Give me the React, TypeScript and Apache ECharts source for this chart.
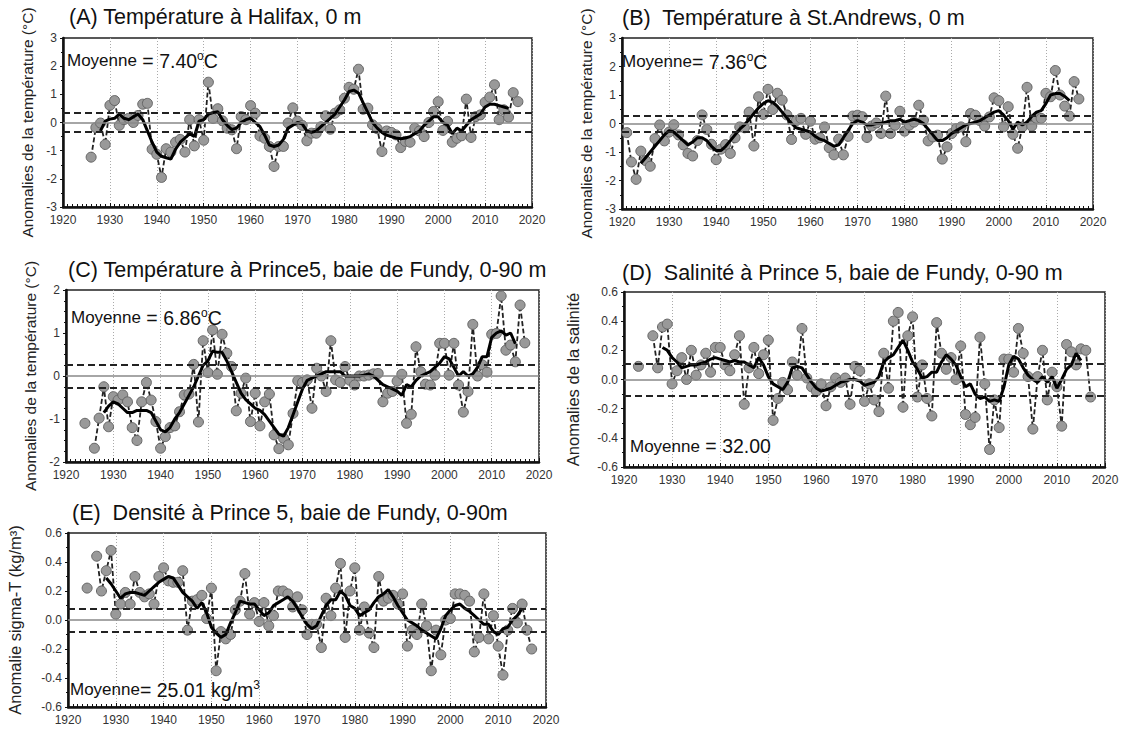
import React, { useEffect, useRef } from 'react';
import * as echarts from 'echarts';

const FONT = '"Liberation Sans", Arial, Helvetica, sans-serif';

// ---------- DATA ----------
const xTickYears = [1920, 1930, 1940, 1950, 1960, 1970, 1980, 1990, 2000, 2010, 2020];

// (A) Halifax 0 m temperature anomalies, from 1926
const halifaxStart = 1926;
const halifaxTemp = [
  -1.23, -0.18, -0.02, -0.78, 0.61, 0.78, -0.1, 0.1, 0.15, 0.0,
  0.25, 0.65, 0.68, -0.95, -1.13, -1.95, -0.93, -1.05, -0.7, -0.6,
  -1.05, 0.1, -0.83, 0.1, -0.63, 1.43, 0.14, 0.49, 0.06, -0.2,
  -0.26, -0.93, 0.21, 0.1, 0.6, 0.33, -0.48, -0.56, -0.85, -1.56,
  -0.85, -0.85, -0.02, 0.52, 0.05, -0.1, -0.65, -0.38, -0.38, -0.15,
  0.24, -0.24, 0.33, 0.45, 0.86, 1.25, 1.18, 1.89, 0.47, 0.51,
  -0.08, -0.22, -1.03, -0.3, -0.35, -0.44, -0.89, -0.67, -0.7, -0.2,
  -0.3, -0.5, 0.0, 0.39, 0.74, -0.28, 0.04, -0.7, -0.56, -0.47,
  0.83, -0.53, 0.21, 0.27, 0.72, 0.9, 1.34, 0.1, 0.45, 0.19,
  1.06, 0.74,
];
const halifaxSmoothStart = 1928;
const halifaxSmooth = [
  -0.3, 0.05, 0.12, 0.15, 0.3, 0.15, 0.1, 0.2, 0.3, 0.1,
  -0.3, -0.7, -1.05, -1.2, -1.25, -1.3, -0.95, -0.7, -0.55, -0.4,
  -0.5, 0.05, 0.1, 0.3, 0.35, 0.38, 0.1, -0.1, -0.25, -0.2,
  0.0, 0.1, 0.15, 0.0, -0.15, -0.45, -0.8, -0.85, -0.8, -0.6,
  -0.2, -0.1, 0.0, -0.05, -0.3, -0.35, -0.3, -0.15, 0.0, 0.15,
  0.3, 0.55, 0.8, 1.1, 1.15, 1.05, 0.7, 0.35, 0.0, -0.2,
  -0.35, -0.45, -0.5, -0.55, -0.58, -0.55, -0.5, -0.4, -0.3, -0.1,
  0.05, 0.2, 0.2, 0.0, -0.1, -0.4, -0.2, -0.3, -0.1, 0.1,
  0.2, 0.3, 0.55, 0.65, 0.65, 0.6, 0.55, 0.5,
];

// (B) St. Andrews 0 m temperature anomalies, from 1921
const andrewsStart = 1921;
const andrewsTemp = [
  -0.32, -1.35, -1.96, -0.97, -1.3, -1.5, -0.53, -0.05, -0.61, -0.3,
  -0.04, -0.4, -0.75, -1.05, -1.14, -0.6, 0.3, -0.21, -0.73, -1.27,
  -0.9, -0.74, -1.05, -0.5, -0.12, -0.15, 0.4, -0.79, 0.94, 0.32,
  1.2, 0.49, 1.06, 0.82, 0.3, -0.56, 0.1, 0.18, -0.38, 0.08,
  -0.55, -0.5, -0.12, -0.85, -1.1, -0.55, -1.1, -0.45, 0.26, 0.29,
  0.24, -0.49, -0.09, 0.02, -0.35, 0.96, -0.35, -0.06, 0.43, -0.27,
  -0.06, 0.05, 0.64, 0.12, -0.61, -0.47, -0.41, -1.25, -0.82, -0.35,
  -0.18, -0.12, -0.64, 0.35, 0.29, 0.1, -0.09, 0.23, 0.9, 0.8,
  -0.12, 0.59, -0.38, -0.87, -0.12, 1.27, -0.09, 0.18, 0.18, 1.06,
  0.94, 1.86, 1.0, 0.61, 0.26, 1.47, 0.86,
];
const andrewsSmoothStart = 1924;
const andrewsSmooth = [
  -1.4, -1.2, -1.0, -0.8, -0.6, -0.4, -0.25, -0.3, -0.45, -0.6,
  -0.75, -0.65, -0.5, -0.5, -0.6, -0.8, -0.95, -0.95, -0.8, -0.6,
  -0.4, -0.2, -0.05, 0.15, 0.35, 0.55, 0.7, 0.8, 0.75, 0.6,
  0.4, 0.2, 0.0, -0.15, -0.2, -0.25, -0.3, -0.45, -0.55, -0.6,
  -0.7, -0.8, -0.75, -0.5, -0.25, 0.0, 0.1, 0.05, -0.05, -0.05,
  0.0, 0.0, 0.05, 0.1, 0.1, 0.15, 0.05, 0.1, 0.15, 0.1,
  0.0, -0.2, -0.4, -0.6, -0.6, -0.5, -0.35, -0.25, -0.15, -0.05,
  0.0, 0.05, 0.1, 0.2, 0.3, 0.4, 0.45, 0.3, 0.1, -0.2,
  0.05, -0.05, 0.05, 0.25, 0.4, 0.45, 0.7, 1.0, 1.05, 1.05,
  0.95, 0.8,
];

// (C) Prince 5 temperature 0-90 m, from 1924
const p5TempStart = 1924;
const p5Temp = [
  -1.1, null, -1.68, -0.98, -0.25, -1.18, -0.48, -0.56, -0.44, -0.6,
  -1.2, -1.5, -0.6, -0.15, -0.56, -1.06, -1.68, -1.41, -1.2, -1.16,
  -0.83, -0.44, -0.42, 0.27, -1.07, 0.82, 0.08, 1.07, 0.04, 0.97,
  0.53, 0.22, -0.81, -0.4, -0.05, -1.06, -0.4, -1.16, -0.6, -0.42,
  -1.37, -1.69, -1.45, -1.6, -0.87, -0.11, -0.15, -0.09, -0.75, 0.18,
  0.0, -0.36, 0.82, -0.09, -0.15, 0.22, -0.1, -0.21, 0.0, 0.0,
  0.02, 0.05, 0.06, -0.6, -0.4, -0.36, -0.12, 0.04, -1.1, -0.89,
  0.68, 0.1, -0.19, -0.21, 0.02, 0.76, 0.76, 0.02, 0.76, -0.21,
  -0.84, -0.36, 1.2, 0.0, 0.26, 0.09, 0.97, 0.99, 1.86, 0.6,
  0.72, 0.33, 1.65, 0.77,
];
const p5TempSmoothStart = 1928;
const p5TempSmooth = [
  -0.85, -0.7, -0.6, -0.65, -0.75, -0.85, -0.85, -0.8, -0.8, -0.8,
  -0.85, -1.05, -1.25, -1.3, -1.2, -1.0, -0.85, -0.65, -0.45, -0.25,
  0.0, 0.25, 0.35, 0.58, 0.55, 0.55, 0.35, 0.1, -0.15, -0.4,
  -0.55, -0.65, -0.75, -0.8, -0.9, -1.05, -1.2, -1.35, -1.4, -1.2,
  -0.9, -0.6, -0.3, -0.1, -0.05, 0.0, 0.05, 0.1, 0.1, 0.1,
  0.1, 0.0, 0.0, 0.0, 0.0, 0.02, 0.05, 0.0, -0.1, -0.2,
  -0.25, -0.3, -0.35, -0.45, -0.2, -0.25, -0.1, 0.0, 0.05, 0.1,
  0.2, 0.3, 0.45, 0.4, 0.2, 0.0, 0.1, 0.0, 0.05, 0.2,
  0.45, 0.45, 0.9, 1.0, 1.05, 0.95, 1.0, 0.75,
];

// (D) Prince 5 salinity 0-90 m, from 1923
const p5SalStart = 1923;
const p5Sal = [
  0.09, null, null, 0.3, 0.08, 0.36, 0.38, -0.03, 0.06, 0.15,
  0.0, 0.2, 0.03, 0.1, 0.18, 0.05, 0.22, 0.22, 0.1, 0.06,
  0.17, 0.3, -0.17, 0.08, 0.22, 0.04, 0.17, 0.27, -0.28, -0.13,
  -0.02, -0.07, 0.12, 0.03, 0.35, 0.01, -0.05, -0.08, -0.03, -0.18,
  -0.05, 0.01, -0.02, 0.01, -0.17, 0.09, 0.06, -0.15, -0.03, -0.14,
  -0.22, 0.18, -0.06, 0.4, 0.46, -0.19, 0.3, 0.43, -0.12, 0.1,
  -0.13, -0.25, 0.39, 0.18, 0.07, 0.15, 0.0, 0.23, -0.24, -0.31,
  -0.26, 0.29, -0.03, -0.48, -0.14, -0.33, 0.14, 0.14, 0.05, 0.35,
  0.18, 0.02, -0.34, 0.02, 0.2, -0.14, 0.05, -0.05, -0.32, 0.24,
  0.19, 0.1, 0.21, 0.2, -0.12,
];
const p5SalSmoothStart = 1928;
const p5SalSmooth = [
  0.22, 0.2, 0.15, 0.12, 0.08, 0.09, 0.1, 0.1, 0.11, 0.12,
  0.14, 0.15, 0.14, 0.13, 0.12, 0.13, 0.12, 0.12, 0.1, 0.08,
  0.15, 0.1, 0.02, -0.03, -0.05, -0.07, -0.02, 0.08, 0.09, 0.08,
  0.03, -0.02, -0.06, -0.08, -0.07, -0.06, -0.04, -0.02, -0.01, 0.0,
  0.0, -0.01, -0.04, -0.03, -0.02, 0.02, 0.12, 0.15, 0.17, 0.22,
  0.27, 0.2, 0.12, 0.07, 0.01, 0.02, 0.05, 0.05, 0.12, 0.17,
  0.14, 0.1, 0.02, -0.05, -0.03, -0.1, -0.13, -0.12, -0.15, -0.14,
  -0.15, -0.05, 0.1, 0.16, 0.14, 0.08, 0.03, 0.0, -0.02, 0.02,
  -0.02, 0.02, -0.06, 0.0, 0.07, 0.1, 0.18, 0.13,
];

// (E) Prince 5 sigma-T density 0-90 m, from 1924
const p5DenStart = 1924;
const p5Den = [
  0.22, null, 0.44, 0.2, 0.34, 0.48, 0.04, 0.11, 0.19, 0.11,
  0.3, 0.19, 0.16, 0.18, 0.11, 0.3, 0.36, 0.27, 0.26, 0.26,
  0.34, -0.07, 0.13, 0.14, 0.17, 0.01, 0.22, -0.35, -0.08, -0.13,
  -0.1, 0.07, 0.13, 0.32, 0.04, 0.12, -0.01, 0.12, -0.04, 0.03,
  0.2, 0.2, 0.18, 0.09, 0.16, 0.07, -0.1, -0.03, -0.03, -0.19,
  0.15, 0.03, 0.22, 0.39, -0.12, 0.2, 0.36, -0.07, 0.09, -0.09,
  -0.19, 0.3, 0.13, 0.15, 0.17, 0.11, 0.18, -0.18, -0.07, -0.1,
  0.11, -0.04, -0.35, -0.07, -0.24, 0.0, 0.01, 0.18, 0.18, 0.17,
  0.13, -0.22, -0.12, 0.18, -0.13, 0.03, -0.18, -0.38, -0.07, 0.08,
  -0.02, 0.11, -0.07, -0.2,
];
const p5DenSmoothStart = 1928;
const p5DenSmooth = [
  0.29, 0.25, 0.2, 0.15, 0.18, 0.19, 0.19, 0.18, 0.17, 0.2,
  0.23, 0.26, 0.28, 0.3, 0.29, 0.24, 0.19, 0.16, 0.13, 0.08,
  0.12, 0.05, -0.05, -0.09, -0.12, -0.1, -0.02, 0.05, 0.13, 0.12,
  0.11, 0.11, 0.07, 0.03, 0.05, 0.1, 0.12, 0.14, 0.16, 0.13,
  0.08, 0.02, -0.03, -0.06, -0.04, 0.03, 0.1, 0.14, 0.14, 0.2,
  0.17, 0.1, 0.08, 0.03, 0.05, 0.07, 0.12, 0.16, 0.18, 0.21,
  0.16, 0.1, 0.05, 0.0, -0.02, -0.04, -0.07, -0.09, -0.11, -0.13,
  -0.06, 0.03, 0.07, 0.1, 0.11, 0.08, 0.06, 0.03, 0.0, -0.03,
  -0.03, -0.08, -0.1, -0.06, -0.05, 0.0, 0.03, 0.08,
];

// Standard-deviation bands (dashed lines)
const sdBands = [0.34, 0.28, 0.27, 0.11, 0.08];

// ---------- PANEL DEFINITIONS ----------
type Panel = {
  grid: { left: number; top: number; width: number; height: number };
  min: number; max: number; interval: number; minorSplit: number; decimals: number;
  start: number; values: (number | null)[];
  smoothStart: number; smooth: number[];
  sd: number;
  yName: string; yNameGap: number; yNameSize: number;
};

const panels: Panel[] = [
  { grid: { left: 63, top: 38, width: 469, height: 169 }, min: -3, max: 3, interval: 1, minorSplit: 2, decimals: 0,
    start: halifaxStart, values: halifaxTemp, smoothStart: halifaxSmoothStart, smooth: halifaxSmooth, sd: sdBands[0],
    yName: 'Anomalies de la température (°C)', yNameGap: 28, yNameSize: 15.5 },
  { grid: { left: 622, top: 38, width: 471, height: 171 }, min: -3, max: 3, interval: 1, minorSplit: 2, decimals: 0,
    start: andrewsStart, values: andrewsTemp, smoothStart: andrewsSmoothStart, smooth: andrewsSmooth, sd: sdBands[1],
    yName: 'Anomalies de la température (°C)', yNameGap: 28, yNameSize: 15.5 },
  { grid: { left: 66, top: 290, width: 473, height: 172 }, min: -2, max: 2, interval: 1, minorSplit: 4, decimals: 0,
    start: p5TempStart, values: p5Temp, smoothStart: p5TempSmoothStart, smooth: p5TempSmooth, sd: sdBands[2],
    yName: 'Anomalies de la température (°C)', yNameGap: 28, yNameSize: 15.5 },
  { grid: { left: 624, top: 292, width: 481, height: 175 }, min: -0.6, max: 0.6, interval: 0.2, minorSplit: 2, decimals: 1,
    start: p5SalStart, values: p5Sal, smoothStart: p5SalSmoothStart, smooth: p5SalSmooth, sd: sdBands[3],
    yName: 'Anomalies de la salinité', yNameGap: 43, yNameSize: 16.5 },
  { grid: { left: 68, top: 533, width: 478, height: 174 }, min: -0.6, max: 0.6, interval: 0.2, minorSplit: 2, decimals: 1,
    start: p5DenStart, values: p5Den, smoothStart: p5DenSmoothStart, smooth: p5DenSmooth, sd: sdBands[4],
    yName: 'Anomalie sigma-T (kg/m³)', yNameGap: 45, yNameSize: 16.5 },
];

const titles = [
  { x: 69, y: 18, text: '(A) Température à Halifax, 0 m' },
  { x: 622, y: 19, text: '(B)  Température à St.Andrews, 0 m' },
  { x: 68, y: 271, text: '(C) Température à Prince5, baie de Fundy, 0-90 m' },
  { x: 622, y: 274, text: '(D)  Salinité à Prince 5, baie de Fundy, 0-90 m' },
  { x: 72, y: 514, text: '(E)  Densité à Prince 5, baie de Fundy, 0-90m' },
];

const moyennes = [
  { x: 67, y: 61, text: '{m|Moyenne} = 7.40{s|o}C' },
  { x: 622, y: 62, text: '{m|Moyenne}= 7.36{s|o}C' },
  { x: 71, y: 318, text: '{m|Moyenne} = 6.86{s|o}C' },
  { x: 630, y: 447, text: '{m|Moyenne} = 32.00' },
  { x: 70, y: 690, text: '{m|Moyenne}= 25.01 kg/m{s|3}' },
];

function toPairs(start: number, vals: (number | null)[]) {
  return vals.map((v, i) => [start + i, v === null ? '-' : v]);
}

export default function App() {
  const ref = useRef<HTMLDivElement>(null);

  useEffect(() => {
    if (!ref.current) return;
    const chart = echarts.init(ref.current, undefined, { renderer: 'svg' });

    const grids: any[] = [];
    const xAxes: any[] = [];
    const yAxes: any[] = [];
    const series: any[] = [];

    panels.forEach((p, i) => {
      grids.push({ ...p.grid, show: true, borderColor: '#222', borderWidth: 1.5, backgroundColor: '#fff' });
      xAxes.push({
        type: 'value', gridIndex: i, min: xTickYears[0], max: xTickYears[xTickYears.length - 1], interval: 10,
        axisLine: { show: true, onZero: false, lineStyle: { color: '#111', width: 2.5 } },
        axisTick: { show: true, inside: true, length: 4, lineStyle: { color: '#111' } },
        minorTick: { show: true, splitNumber: 10, length: 3, lineStyle: { color: '#111' } },
        axisLabel: { color: '#333', fontSize: 12, fontFamily: FONT, margin: 7, formatter: (v: number) => String(v) },
        splitLine: { show: true, lineStyle: { color: '#aaa', type: [1, 2], width: 1 } },
      });
      yAxes.push({
        type: 'value', gridIndex: i, min: p.min, max: p.max, interval: p.interval,
        name: p.yName, nameLocation: 'middle', nameRotate: 90, nameGap: p.yNameGap,
        nameTextStyle: { color: '#222', fontSize: p.yNameSize, fontFamily: FONT },
        axisLine: { show: true, onZero: false, lineStyle: { color: '#111', width: 2.5 } },
        axisTick: { show: true, inside: false, length: 3, lineStyle: { color: '#111' } },
        minorTick: { show: true, splitNumber: p.minorSplit, length: 2, lineStyle: { color: '#111' } },
        axisLabel: {
          color: '#333', fontSize: 12, fontFamily: FONT, margin: 6,
          formatter: (v: number) => v.toFixed(p.decimals),
        },
        splitLine: { show: false },
      });
      // reference lines: zero and +/- one standard deviation
      series.push({
        type: 'line', xAxisIndex: i, yAxisIndex: i, data: [], z: 1, silent: true,
        markLine: {
          silent: true, symbol: 'none', label: { show: false }, animation: false,
          data: [
            { yAxis: 0, lineStyle: { color: '#888', type: 'solid', width: 1.5 } },
            { yAxis: p.sd, lineStyle: { color: '#222', type: [7, 4], width: 1.8 } },
            { yAxis: -p.sd, lineStyle: { color: '#222', type: [7, 4], width: 1.8 } },
          ],
        },
      });
      series.push({
        type: 'line', xAxisIndex: i, yAxisIndex: i, z: 2,
        data: toPairs(p.start, p.values),
        connectNulls: false,
        symbol: 'circle', symbolSize: 10,
        itemStyle: { color: '#999', borderColor: '#666', borderWidth: 1 },
        lineStyle: { color: '#222', width: 1.8, type: [5, 2.5] },
      });
      series.push({
        type: 'line', xAxisIndex: i, yAxisIndex: i, z: 3,
        data: toPairs(p.smoothStart, p.smooth),
        symbol: 'none', lineStyle: { color: '#000', width: 3 },
      });
    });

    const graphics: any[] = [];
    titles.forEach((t) => {
      graphics.push({
        type: 'text', left: t.x, top: t.y - 12, z: 10,
        style: { text: t.text, fill: '#111', font: `21.5px ${FONT}` },
      });
    });
    moyennes.forEach((m) => {
      graphics.push({
        type: 'text', left: m.x, top: m.y - 11, z: 10,
        style: {
          text: m.text, fill: '#111', fontSize: 19.5, fontFamily: FONT,
          rich: {
            m: { fontSize: 17, fontFamily: FONT, fill: '#111' },
            s: { fontSize: 12, fontFamily: FONT, fill: '#111', verticalAlign: 'top', padding: [0, 0, 9, 0] },
          },
        },
      });
    });

    chart.setOption({
      animation: false,
      backgroundColor: '#fff',
      textStyle: { fontFamily: FONT },
      grid: grids,
      xAxis: xAxes,
      yAxis: yAxes,
      series,
      graphic: graphics,
    });

    return () => chart.dispose();
  }, []);

  return (
    <div
      ref={ref}
      style={{ position: 'fixed', left: 0, top: 0, width: 1122, height: 731, background: '#fff' }}
    />
  );
}
